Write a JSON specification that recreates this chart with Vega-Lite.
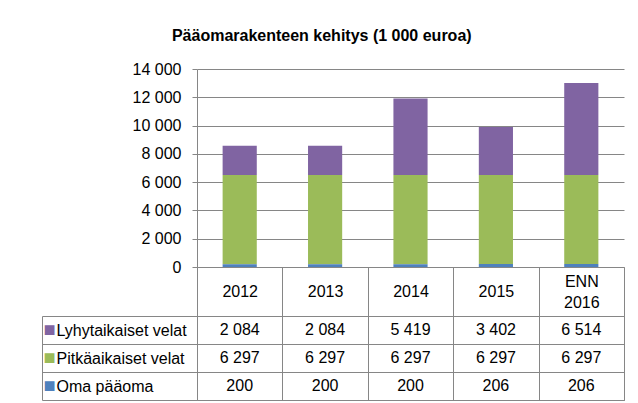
{
  "$schema": "https://vega.github.io/schema/vega-lite/v6.json",
  "padding": {"left": 41, "top": 28, "right": 10, "bottom": 0},
  "background": "white",
  "config": {
    "font": "Liberation Sans",
    "locale": {"number": {"decimal": ",", "thousands": " ", "grouping": [3], "currency": ["", " €"]}},
    "view": {"stroke": "#868686"},
    "axis": {"labelFont": "Liberation Sans", "labelFontSize": 16, "labelColor": "#000000", "domainColor": "#868686", "tickColor": "#868686", "gridColor": "#868686"}
  },
  "title": {"text": "Pääomarakenteen kehitys (1 000 euroa)", "fontSize": 16, "fontWeight": "bold", "font": "Liberation Sans", "color": "#000000", "anchor": "middle", "offset": 17, "dx": -11},
  "data": {"values": [
    {"year": "2012", "series": "Lyhytaikaiset velat", "value": 2084},
    {"year": "2013", "series": "Lyhytaikaiset velat", "value": 2084},
    {"year": "2014", "series": "Lyhytaikaiset velat", "value": 5419},
    {"year": "2015", "series": "Lyhytaikaiset velat", "value": 3402},
    {"year": "ENN 2016", "series": "Lyhytaikaiset velat", "value": 6514},
    {"year": "2012", "series": "Pitkäaikaiset velat", "value": 6297},
    {"year": "2013", "series": "Pitkäaikaiset velat", "value": 6297},
    {"year": "2014", "series": "Pitkäaikaiset velat", "value": 6297},
    {"year": "2015", "series": "Pitkäaikaiset velat", "value": 6297},
    {"year": "ENN 2016", "series": "Pitkäaikaiset velat", "value": 6297},
    {"year": "2012", "series": "Oma pääoma", "value": 200},
    {"year": "2013", "series": "Oma pääoma", "value": 200},
    {"year": "2014", "series": "Oma pääoma", "value": 200},
    {"year": "2015", "series": "Oma pääoma", "value": 206},
    {"year": "ENN 2016", "series": "Oma pääoma", "value": 206}
  ]},
  "bounds": "flush",
  "spacing": 49,
  "vconcat": [
    {
      "width": 427,
      "height": 198,
      "view": {"stroke": null},
      "transform": [
        {"calculate": "indexof(['Oma pääoma', 'Pitkäaikaiset velat', 'Lyhytaikaiset velat'], datum.series)", "as": "stackOrder"}
      ],
      "mark": {"type": "bar", "width": {"band": 0.4}},
      "encoding": {
        "x": {
          "field": "year", "type": "nominal",
          "sort": ["2012", "2013", "2014", "2015", "ENN 2016"],
          "scale": {"paddingInner": 0, "paddingOuter": 0},
          "axis": {"title": null, "labelAngle": 0, "tickBand": "extent", "tickSize": 49, "labelBaseline": "middle",
            "labelPadding": {"condition": {"test": "datum.value == 'ENN 2016'", "value": -34.5}, "value": -24.5},
            "labelLineHeight": 21, "labelOverlap": false, "labelExpr": "datum.value == 'ENN 2016' ? ['ENN', '2016'] : datum.value"}
        },
        "y": {
          "field": "value", "type": "quantitative", "stack": "zero",
          "scale": {"domain": [0, 14000]},
          "axis": {"title": null, "values": [0, 2000, 4000, 6000, 8000, 10000, 12000, 14000], "format": ",d", "tickSize": 5, "labelPadding": 11, "grid": true}
        },
        "color": {
          "field": "series", "type": "nominal",
          "scale": {"domain": ["Oma pääoma", "Pitkäaikaiset velat", "Lyhytaikaiset velat"], "range": ["#4f81bd", "#9bbb59", "#8064a2"]},
          "legend": null
        },
        "order": {"field": "stackOrder", "type": "quantitative", "sort": "ascending"}
      }
    },
    {
      "width": 427,
      "height": 84,
      "resolve": {"axis": {"y": "independent"}},
      "encoding": {
        "x": {
          "field": "year", "type": "nominal",
          "sort": ["2012", "2013", "2014", "2015", "ENN 2016"],
          "scale": {"paddingInner": 0, "paddingOuter": 0},
          "axis": {"title": null, "labels": false, "ticks": false, "domain": false, "grid": true, "tickBand": "extent"}
        }
      },
      "layer": [
        {
          "mark": {"type": "text", "fontSize": 16, "color": "#000000", "baseline": "middle", "align": "center"},
          "encoding": {
            "y": {
              "field": "series", "type": "nominal",
              "sort": ["Lyhytaikaiset velat", "Pitkäaikaiset velat", "Oma pääoma"],
              "scale": {"paddingInner": 0, "paddingOuter": 0},
              "axis": {"title": null, "orient": "left", "domain": false, "ticks": true, "tickSize": 155, "tickBand": "extent", "labelAlign": "left", "labelPadding": -14, "grid": true}
            },
            "text": {"field": "value", "type": "quantitative", "format": ",d"}
          }
        },
        {
          "mark": {"type": "point", "opacity": 0},
          "encoding": {
            "y": {
              "field": "series", "type": "nominal",
              "sort": ["Lyhytaikaiset velat", "Pitkäaikaiset velat", "Oma pääoma"],
              "axis": {"title": null, "orient": "left", "offset": 155, "domain": true, "ticks": false, "grid": false, "labelAlign": "left", "labelPadding": -1, "labelFontSize": 20, "labelExpr": "'■'",
                "labelColor": {"condition": [{"test": "datum.value == 'Lyhytaikaiset velat'", "value": "#8064a2"}, {"test": "datum.value == 'Pitkäaikaiset velat'", "value": "#9bbb59"}], "value": "#4f81bd"}}
            }
          }
        }
      ]
    }
  ]
}
